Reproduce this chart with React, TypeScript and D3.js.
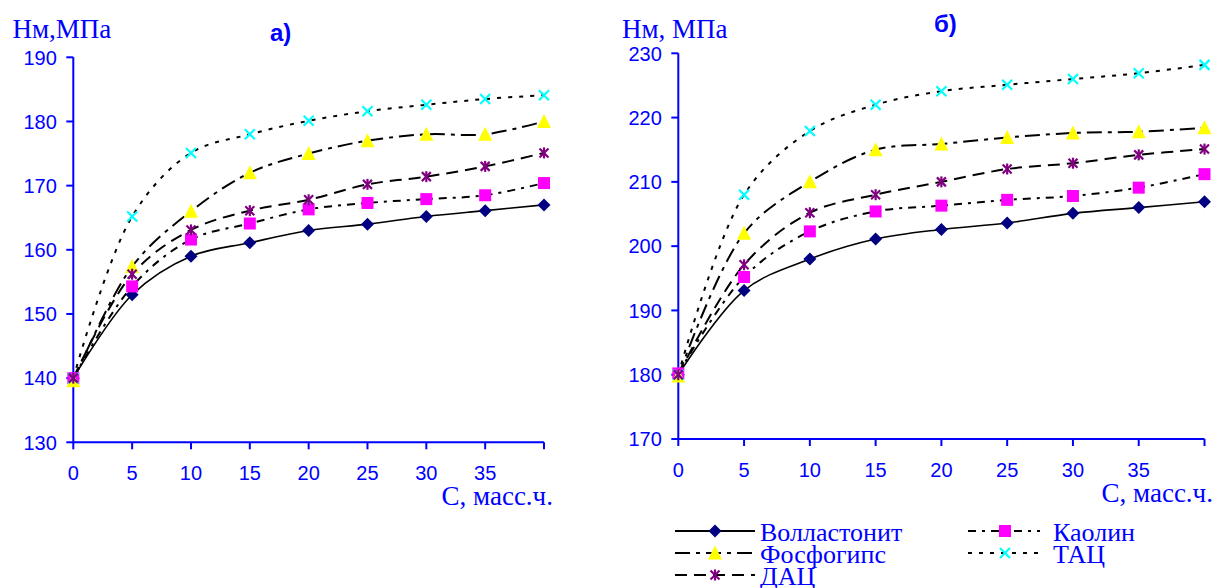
import React from "react";
import * as d3 from "d3";

// concentration, mass parts
const C = [0, 5, 10, 15, 20, 25, 30, 35, 40];
const xTicks = [0, 5, 10, 15, 20, 25, 30, 35, 40];
const xTickLabels = [0, 5, 10, 15, 20, 25, 30, 35];

// panel а)
const aTicks = [130, 140, 150, 160, 170, 180, 190];
const aWollastonite = [140, 153, 159, 161.1, 163, 164, 165.2, 166.1, 167];
const aKaolin = [140, 154.3, 161.6, 164.1, 166.3, 167.3, 167.9, 168.5, 170.4];
const aPhosphogypsum = [139.6, 157.4, 166, 172, 175, 177, 178, 178, 180];
const aTAC = [140, 165.2, 175.1, 178, 180.1, 181.6, 182.6, 183.5, 184.1];
const aDAC = [140, 156.2, 163.1, 166.1, 167.8, 170.2, 171.4, 173, 175.1];

// panel б)
const bTicks = [170, 180, 190, 200, 210, 220, 230];
const bWollastonite = [180, 193.1, 198, 201.1, 202.6, 203.6, 205.1, 206, 206.9];
const bKaolin = [180.2, 195.2, 202.3, 205.4, 206.3, 207.2, 207.8, 209.1, 211.2];
const bPhosphogypsum = [179.8, 202, 210, 215, 215.9, 216.9, 217.6, 217.8, 218.4];
const bTAC = [180, 208, 217.9, 222, 224.1, 225.1, 226, 226.9, 228.2];
const bDAC = [180, 197.1, 205.2, 208, 210, 212, 212.9, 214.2, 215.1];

const seriesNames = ["Волластонит", "Каолин", "Фосфогипс", "ТАЦ", "ДАЦ"];

const BLUE = "#0000ff";
const SANS = "'Liberation Sans', Arial, sans-serif";
const SERIF = "'Liberation Serif', 'Times New Roman', serif";

const styles = [
  { dash: null, marker: "diamond", color: "#000080" },
  { dash: "8,6,3,6", marker: "square", color: "#ff00ff" },
  { dash: "15,6,4,6", marker: "triangle", color: "#ffff00" },
  { dash: "4,7", marker: "x", color: "#00ffff" },
  { dash: "12,7", marker: "asterisk", color: "#800080" },
];

function Marker({ type, color, x, y }) {
  const t = `translate(${x},${y})`;
  if (type === "diamond")
    return <path transform={t} d="M0,-6.5L6.5,0L0,6.5L-6.5,0Z" fill={color} />;
  if (type === "square")
    return <rect transform={t} x={-6} y={-6} width={12} height={12} fill={color} />;
  if (type === "triangle")
    return <path transform={t} d="M0,-7.5L7,6.5L-7,6.5Z" fill={color} />;
  if (type === "x")
    return (
      <g transform={t} stroke={color} strokeWidth={2.2}>
        <line x1={-5} y1={-5} x2={5} y2={5} />
        <line x1={-5} y1={5} x2={5} y2={-5} />
      </g>
    );
  return (
    <g transform={t} stroke={color} strokeWidth={2.2}>
      <line x1={-4.5} y1={-4.5} x2={4.5} y2={4.5} />
      <line x1={-4.5} y1={4.5} x2={4.5} y2={-4.5} />
      <line x1={0} y1={-5.5} x2={0} y2={5.5} />
    </g>
  );
}

function Panel({ series, ticks, xRange, yRange, yTitle, yTitleX, tag, tagX, tagY, xTitleX, xTitleY }) {
  const x = d3.scaleLinear().domain([0, 40]).range(xRange);
  const y = d3.scaleLinear().domain([ticks[0], ticks[ticks.length - 1]]).range(yRange);
  const line = d3
    .line<number>()
    .x((d, i) => x(C[i]))
    .y((d) => y(d))
    .curve(d3.curveCatmullRom.alpha(0.5));
  const y0 = yRange[0];
  const x0 = xRange[0];

  return (
    <g>
      <text x={yTitleX} y={38} fontFamily={SERIF} fontSize={27} fill={BLUE}>
        {yTitle}
      </text>
      <text x={tagX} y={tagY} fontFamily={SANS} fontSize={24} fontWeight="bold" fill={BLUE}>
        {tag}
      </text>

      {/* axes */}
      <g stroke={BLUE} strokeWidth={2}>
        <line x1={x0} x2={x0} y1={y0 + 1} y2={yRange[1]} />
        <line x1={x0} x2={xRange[1]} y1={y0} y2={y0} />
        {ticks.map((t) => (
          <line key={t} x1={x0 - 7} x2={x0} y1={y(t)} y2={y(t)} />
        ))}
        {xTicks.map((t) => (
          <line key={t} x1={x(t)} x2={x(t)} y1={y0} y2={y0 + 7} />
        ))}
      </g>
      <g fontFamily={SANS} fontSize={20} fill={BLUE}>
        {ticks.map((t) => (
          <text key={t} x={x0 - 16.5} y={y(t)} dy="0.36em" textAnchor="end">
            {t}
          </text>
        ))}
        {xTickLabels.map((t) => (
          <text key={t} x={x(t)} y={y0 + 38} textAnchor="middle">
            {t}
          </text>
        ))}
      </g>
      <text x={xTitleX} y={xTitleY} fontFamily={SERIF} fontSize={27} fill={BLUE}>
        С, масс.ч.
      </text>

      {/* curves */}
      {series.map((s, i) => (
        <path
          key={i}
          d={line(s) || ""}
          fill="none"
          stroke="#000"
          strokeWidth={i === 0 ? 1.6 : 2}
          strokeDasharray={styles[i].dash || undefined}
        />
      ))}
      {series.map((s, i) =>
        s.map((v, j) => (
          <Marker key={`${i}-${j}`} type={styles[i].marker} color={styles[i].color} x={x(C[j])} y={y(v)} />
        ))
      )}
    </g>
  );
}

function Legend() {
  const cols = [
    { lineX: [675, 755], markX: 715, textX: 760 },
    { lineX: [968, 1040], markX: 1005, textX: 1053 },
  ];
  const baselines = [541, 563, 585];
  return (
    <g>
      {seriesNames.map((name, i) => {
        const c = cols[i % 2];
        const by = baselines[Math.floor(i / 2)];
        const ly = by - 10;
        return (
          <g key={name}>
            <line
              x1={c.lineX[0]}
              x2={c.lineX[1]}
              y1={ly}
              y2={ly}
              stroke="#000"
              strokeWidth={2}
              strokeDasharray={styles[i].dash || undefined}
            />
            <Marker type={styles[i].marker} color={styles[i].color} x={c.markX} y={ly} />
            <text x={c.textX} y={by} fontFamily={SERIF} fontSize={26} fill={BLUE}>
              {name}
            </text>
          </g>
        );
      })}
    </g>
  );
}

export default function App() {
  return (
    <svg
      width={1219}
      height={588}
      style={{ position: "absolute", left: 0, top: 0, background: "#fff" }}
    >
      <Panel
        series={[aWollastonite, aKaolin, aPhosphogypsum, aTAC, aDAC]}
        ticks={aTicks}
        xRange={[73.3, 544]}
        yRange={[442.3, 57.3]}
        yTitle="Нм,МПа"
        yTitleX={12.5}
        tag="а)"
        tagX={270}
        tagY={41}
        xTitleX={441.5}
        xTitleY={505}
      />
      <Panel
        series={[bWollastonite, bKaolin, bPhosphogypsum, bTAC, bDAC]}
        ticks={bTicks}
        xRange={[678.3, 1204.5]}
        yRange={[439, 53.3]}
        yTitle="Нм, МПа"
        yTitleX={622}
        tag="б)"
        tagX={934}
        tagY={32}
        xTitleX={1101.5}
        xTitleY={502}
      />
      <Legend />
    </svg>
  );
}
